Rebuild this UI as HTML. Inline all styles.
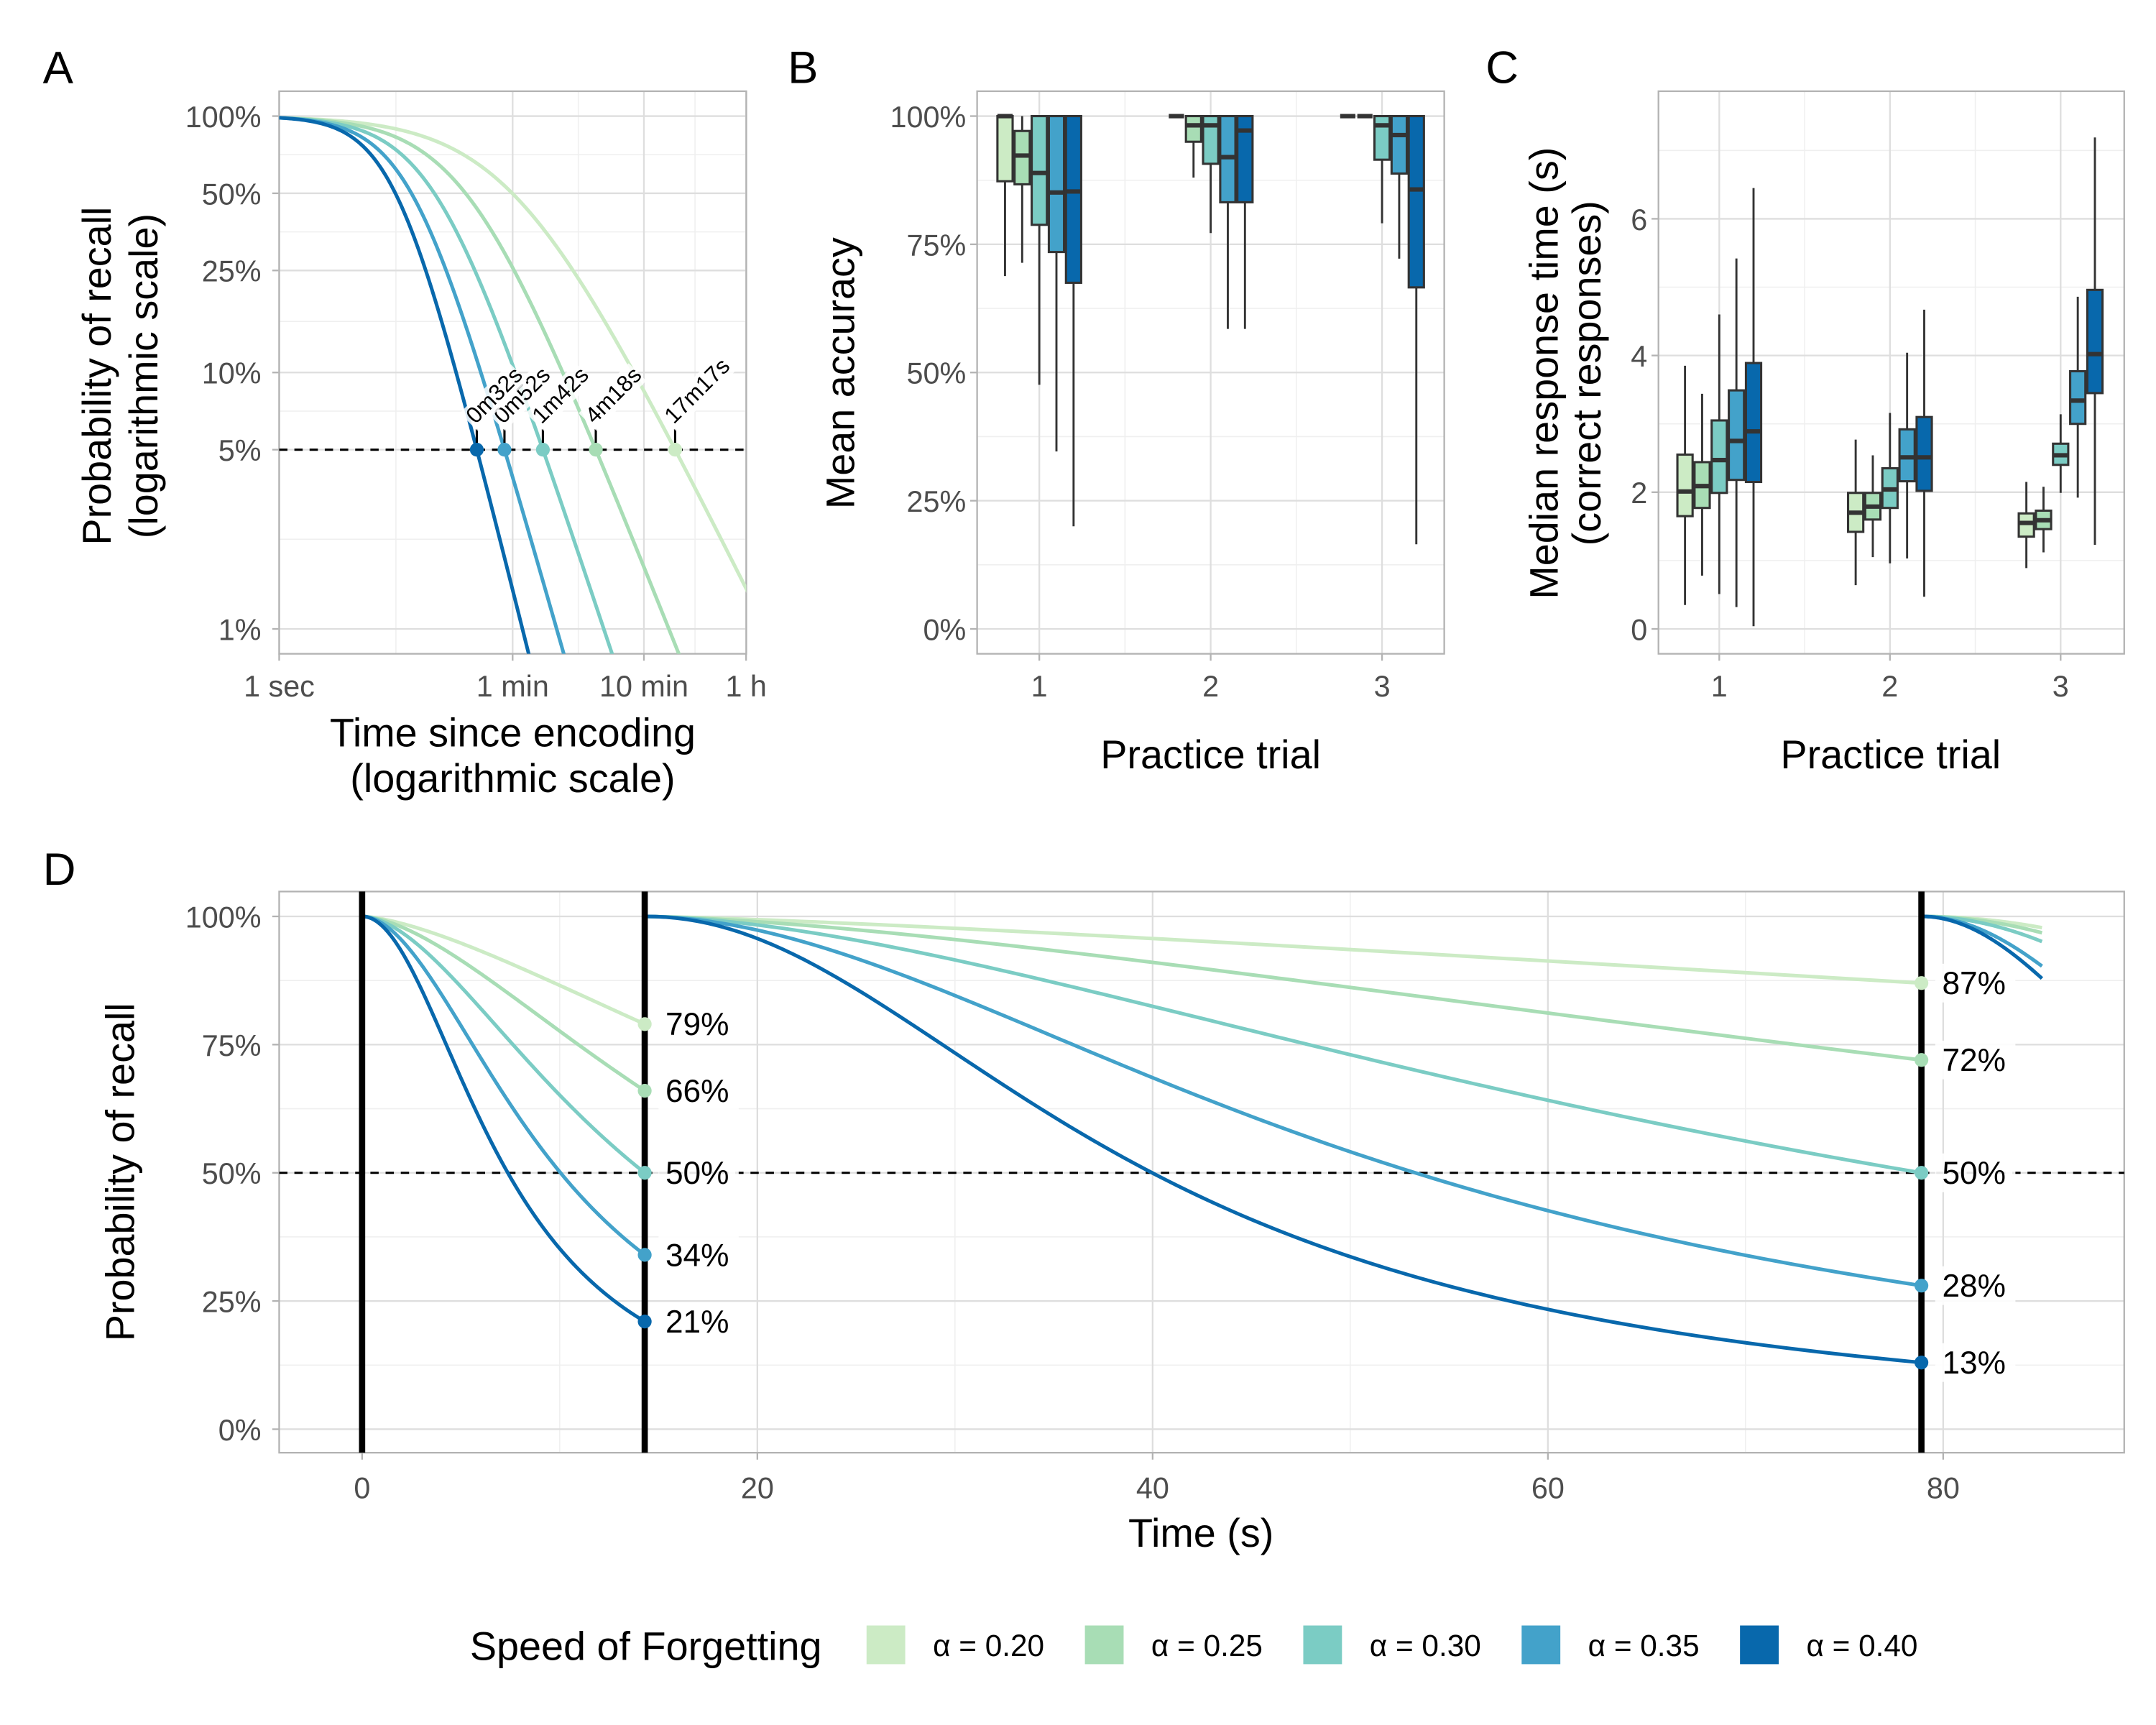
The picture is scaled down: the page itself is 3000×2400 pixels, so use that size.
<!DOCTYPE html>
<html><head><meta charset="utf-8"><style>
html,body{margin:0;padding:0;background:#fff;}
svg{display:block;font-family:"Liberation Sans",Arial,sans-serif;}
.tick{fill:#4d4d4d;font-size:21.5px;}
.title{fill:#000;font-size:29px;}
</style></head><body>
<svg id="fig" width="3000" height="2400" viewBox="0 0 1560 1248" xmlns="http://www.w3.org/2000/svg">
<defs>
<clipPath id="clipA"><rect x="202" y="66" width="338" height="407"/></clipPath>
<clipPath id="clipD"><rect x="202" y="645" width="1335" height="406"/></clipPath>
</defs>
<rect x="0" y="0" width="1560" height="1248" fill="#fff"/>
<g id="pA"></g>
<g id="pB"></g>
<g id="pC"></g>
<g id="pD"></g>
<text x="31" y="60" font-size="33">A</text>
<text x="570" y="60" font-size="33">B</text>
<text x="1075" y="60" font-size="33">C</text>
<text x="31" y="640" font-size="33">D</text>
<g class="title" text-anchor="middle">
<text transform="translate(80,272) rotate(-90)">Probability of recall</text>
<text transform="translate(114,272) rotate(-90)">(logarithmic scale)</text>
<text x="371" y="540">Time since encoding</text>
<text x="371" y="573">(logarithmic scale)</text>
<text transform="translate(618,270) rotate(-90)">Mean accuracy</text>
<text x="876" y="556">Practice trial</text>
<text transform="translate(1127,270) rotate(-90)">Median response time (s)</text>
<text transform="translate(1158,270) rotate(-90)">(correct responses)</text>
<text x="1368" y="556">Practice trial</text>
<text transform="translate(97,848) rotate(-90)">Probability of recall</text>
<text x="869" y="1119">Time (s)</text>
</g>
<g id="legend">
<text x="340" y="1201" font-size="29">Speed of Forgetting</text>
</g>
</svg>
<script>
const NS="http://www.w3.org/2000/svg";
const alphas=[0.20,0.25,0.30,0.35,0.40];
const alphaLabels=["α = 0.20","α = 0.25","α = 0.30","α = 0.35","α = 0.40"];
const colors=["#CCEBC5","#A8DDB5","#7BCCC4","#43A2CA","#0868AC"];
// Panel A
const crossTimes=[1037,258,102,52,32];
const crossLabels=["17m17s","4m18s","1m42s","0m52s","0m32s"];
const aYTicks=[1,0.5,0.25,0.1,0.05,0.01];
const aYLabels=["100%","50%","25%","10%","5%","1%"];
const aXTicks=[1,60,600,3600];
const aXLabels=["1 sec","1 min","10 min","1 h"];
const threshold=0.05;
// Panel B
const trials=["1","2","3"];
const accHi=[[100,100,100,100,100],[100,100,100,100,100],[100,100,100,100,100]];
const accQ3=[[100,97.1,100,100,100],[100,100,100,100,100],[100,100,100,100,100]];
const accMed=[[100,92.3,88.9,85.1,85.3],[100,98.2,98.2,92.0,97.2],[100,100,98.2,96.3,85.7]];
const accQ1=[[87.3,86.7,78.8,73.5,67.5],[100,95.0,90.7,83.2,83.2],[100,100,91.5,88.8,66.6]];
const accLo=[[68.8,71.4,47.6,34.6,20],[100,88,77.2,58.5,58.5],[100,100,79.1,72.2,16.5]];
const bYTicks=[0,25,50,75,100];
const bYLabels=["0%","25%","50%","75%","100%"];
// Panel C
const rtHi=[[3.85,3.44,4.6,5.42,6.45],[2.77,2.54,3.16,4.04,4.67],[2.15,2.08,3.14,4.86,7.19]];
const rtQ3=[[2.55,2.44,3.05,3.49,3.89],[1.99,1.99,2.35,2.92,3.1],[1.69,1.73,2.71,3.77,4.96]];
const rtMed=[[2.01,2.09,2.47,2.75,2.89],[1.70,1.79,2.04,2.51,2.51],[1.55,1.59,2.54,3.34,4.02]];
const rtQ1=[[1.65,1.77,1.99,2.18,2.15],[1.42,1.6,1.77,2.16,2.02],[1.35,1.46,2.4,3.0,3.45]];
const rtLo=[[0.35,0.78,0.51,0.32,0.04],[0.64,1.05,0.96,1.03,0.47],[0.89,1.12,1.99,1.92,1.23]];
const cYTicks=[0,2,4,6];
// Panel D
const segStart=[0,14.3,78.9];
const segEnd=[14.3,78.9,85];
const seg1End=[0.79,0.66,0.50,0.34,0.21];
const seg2End=[0.87,0.72,0.50,0.28,0.13];
const seg3End=[0.978,0.968,0.951,0.903,0.879];
const seg1Labels=["79%","66%","50%","34%","21%"];
const seg2Labels=["87%","72%","50%","28%","13%"];
const dXTicks=[0,20,40,60,80];
const dYTicks=[0,0.25,0.5,0.75,1];
const dYLabels=["0%","25%","50%","75%","100%"];

function mk(tag,attrs,parent){const e=document.createElementNS(NS,tag);for(const k in attrs)e.setAttribute(k,attrs[k]);parent.appendChild(e);return e;}
const pA=document.getElementById('pA'),pB=document.getElementById('pB'),pC=document.getElementById('pC'),pD=document.getElementById('pD');

function frame(g,x,y,w,h,name){
  const r=mk('rect',{x:x,y:y,width:w,height:h,fill:'none',stroke:'#b3b3b3','stroke-width':1.2},g);
  
  
}
function grid(g,x1,y1,x2,y2,major,name){
  const l=mk('line',{x1:x1,y1:y1,x2:x2,y2:y2,stroke:major?'#dedede':'#efefef','stroke-width':major?1.2:0.8},g);
  
  
}
function tickLabel(g,x,y,txt,anchor,name){
  const t=mk('text',{x:x,y:y,'text-anchor':anchor,class:'tick'},g);t.textContent=txt;
  
  
}
function tickMark(g,x1,y1,x2,y2){
  const l=mk('line',{x1:x1,y1:y1,x2:x2,y2:y2,stroke:'#b3b3b3','stroke-width':1.2},g);
  
  
}

// ---------- Panel A ----------
const xA=t=>202+Math.log10(t)*95;
const yA=p=>84+(0-Math.log10(p))*185.5;
(function(){
  const yMinor=[];for(let i=0;i<aYTicks.length-1;i++)yMinor.push(Math.sqrt(aYTicks[i]*aYTicks[i+1]));
  yMinor.forEach(v=>grid(pA,202,yA(v),540,yA(v),false,'a-y-minor-grid'));
  for(let i=0;i<aXTicks.length-1;i++){const v=Math.sqrt(aXTicks[i]*aXTicks[i+1]);grid(pA,xA(v),66,xA(v),473,false,'a-x-minor-grid');}
  aYTicks.forEach((v,i)=>{grid(pA,202,yA(v),540,yA(v),true,'a-y-grid');tickMark(pA,197,yA(v),202,yA(v));tickLabel(pA,189,yA(v)+8,aYLabels[i],'end','a-y-tick-label');});
  aXTicks.forEach((v,i)=>{grid(pA,xA(v),66,xA(v),473,true,'a-x-grid');tickMark(pA,xA(v),473,xA(v),478);tickLabel(pA,xA(v),504,aXLabels[i],'middle','a-x-tick-label');});
  frame(pA,202,66,338,407,'a-plot-frame');
  const cg=mk('g',{'clip-path':'url(#clipA)'},pA);
  
  
  const s=0.194,L=Math.log(1/threshold-1);
  alphas.forEach((a,i)=>{
    const tau=s*L-a*Math.log(crossTimes[i]);
    let d='';
    for(let k=0;k<=300;k++){const t=Math.pow(10,k/300*3.6);const p=1/(1+Math.exp((tau+a*Math.log(t))/s));d+=(k?'L':'M')+xA(t).toFixed(2)+','+yA(Math.max(p,1e-4)).toFixed(2);}
    const path=mk('path',{d:d,fill:'none',stroke:colors[i],'stroke-width':2.6},cg);
    
    
  });
  const dl=mk('line',{x1:202,y1:yA(threshold),x2:540,y2:yA(threshold),stroke:'#000','stroke-width':1.6,'stroke-dasharray':'6,5'},pA);
  
  
  alphas.forEach((a,i)=>{
    const x=xA(crossTimes[i]),y=yA(threshold);
    const tk=mk('line',{x1:x,y1:y,x2:x,y2:y-15,stroke:'#000','stroke-width':1.6},pA);
    
    
    const g=mk('g',{transform:'translate('+(x-1)+','+(y-18)+') rotate(-45)'},pA);
    
    
    const bg=mk('rect',{x:-2,y:-14,width:crossLabels[i].length*9.4+4,height:18,fill:'#fff','fill-opacity':0.85},g);
    
    
    const t=mk('text',{x:0,y:0,'font-size':16.5,fill:'#000'},g);t.textContent=crossLabels[i];
    
    
    const c=mk('circle',{cx:x,cy:y,r:5,fill:colors[i]},pA);
    
    
  });
})();

// ---------- Box plots ----------
function boxPanel(g,x0,w,xc,yf,hi,q3,med,q1,lo,yTicks,yLabels,minorStep,prefix){
  yTicks.forEach((v,i)=>{if(i<yTicks.length-1)grid(g,x0,yf(v+minorStep),x0+w,yf(v+minorStep),false,prefix+'-y-minor-grid');});
  if(prefix==='c'){grid(g,x0,yf(7),x0+w,yf(7),false,'c-y-minor-grid');}
  [0.5,1.5].forEach(v=>{const xm=xc(v);grid(g,xm,66,xm,473,false,prefix+'-x-minor-grid');});
  yTicks.forEach((v,i)=>{grid(g,x0,yf(v),x0+w,yf(v),true,prefix+'-y-grid');tickMark(g,x0-5,yf(v),x0,yf(v));tickLabel(g,x0-8,yf(v)+8,yLabels[i],'end',prefix+'-y-tick-label');});
  trials.forEach((tr,j)=>{grid(g,xc(j),66,xc(j),473,true,prefix+'-x-grid');tickMark(g,xc(j),473,xc(j),478);tickLabel(g,xc(j),504,tr,'middle',prefix+'-x-tick-label');});
  frame(g,x0,66,w,407,prefix+'-plot-frame');
  trials.forEach((tr,j)=>{
    alphas.forEach((a,i)=>{
      const cx=xc(j)+(i-2)*12.4,bw=11;
      const wl=mk('line',{x1:cx,y1:yf(hi[j][i]),x2:cx,y2:yf(lo[j][i]),stroke:'#333','stroke-width':1.5},g);
      
      
      const r=mk('rect',{x:cx-bw/2,y:yf(q3[j][i]),width:bw,height:Math.max(0,yf(q1[j][i])-yf(q3[j][i])),fill:colors[i],stroke:'#333','stroke-width':1.6},g);
      
      
      const m=mk('line',{x1:cx-bw/2,y1:yf(med[j][i]),x2:cx+bw/2,y2:yf(med[j][i]),stroke:'#333','stroke-width':3.2},g);
      
      
    });
  });
}
boxPanel(pB,707,338,j=>752+j*124,v=>455-v*3.71,accHi,accQ3,accMed,accQ1,accLo,bYTicks,bYLabels,12.5,'b');
boxPanel(pC,1200,337,j=>1244+j*123.5,v=>455-v*49.45,rtHi,rtQ3,rtMed,rtQ1,rtLo,cYTicks,cYTicks.map(String),1,'c');

// ---------- Panel D ----------
const xD=t=>262+t*14.3;
const yD=p=>1034-p*371;
(function(){
  dYTicks.forEach((v,i)=>{if(i<dYTicks.length-1)grid(pD,202,yD(v+0.125),1537,yD(v+0.125),false,'d-y-minor-grid');});
  [10,30,50,70].forEach(v=>grid(pD,xD(v),645,xD(v),1051,false,'d-x-minor-grid'));
  dYTicks.forEach((v,i)=>{grid(pD,202,yD(v),1537,yD(v),true,'d-y-grid');tickMark(pD,197,yD(v),202,yD(v));tickLabel(pD,189,yD(v)+8,dYLabels[i],'end','d-y-tick-label');});
  dXTicks.forEach(v=>{grid(pD,xD(v),645,xD(v),1051,true,'d-x-grid');tickMark(pD,xD(v),1051,xD(v),1056);tickLabel(pD,xD(v),1084,String(v),'middle','d-x-tick-label');});
  frame(pD,202,645,1335,406,'d-plot-frame');
  const dl=mk('line',{x1:202,y1:yD(0.5),x2:1537,y2:yD(0.5),stroke:'#000','stroke-width':1.6,'stroke-dasharray':'6,5'},pD);
  
  
  const ends=[seg1End,seg2End,seg3End];
  const kBase=[1.5,1.3,2.0],kSlope=[2.5,3.8,0];
  alphas.forEach((a,i)=>{
    let d='';
    for(let s=0;s<3;s++){
      const T=segEnd[s]-segStart[s],pe=ends[s][i];
      const k=kBase[s]+(a-0.2)*kSlope[s];
      const h=T/Math.pow(1/pe-1,1/k);
      for(let n=0;n<=120;n++){const dt=T*n/120;const p=1/(1+Math.pow(dt/h,k));d+=(d&&n>0?'L':'M')+xD(segStart[s]+dt).toFixed(2)+','+yD(p).toFixed(2);}
    }
    const path=mk('path',{d:d,fill:'none',stroke:colors[i],'stroke-width':2.6},pD);
    
    
  });
  [segStart[0],segStart[1],segStart[2]].forEach(t=>{
    const l=mk('line',{x1:xD(t),y1:645,x2:xD(t),y2:1051,stroke:'#000','stroke-width':4.5},pD);
    
    
  });
  [[seg1End,seg1Labels,segEnd[0]],[seg2End,seg2Labels,segEnd[1]]].forEach(([vals,labs,t])=>{
    vals.forEach((v,i)=>{
      const bg=mk('rect',{x:xD(t)+10,y:yD(v)-14,width:58,height:28,fill:'#fff','fill-opacity':0.9},pD);
      
      
      const tx=mk('text',{x:xD(t)+15,y:yD(v)+8,'font-size':23,fill:'#000'},pD);tx.textContent=labs[i];
      
      
      const c=mk('circle',{cx:xD(t),cy:yD(v),r:5,fill:colors[i]},pD);
      
      
    });
  });
})();

// ---------- Legend ----------
(function(){
  const lg=document.getElementById('legend');
  alphaLabels.forEach((lab,i)=>{
    const x=627+i*158;
    const r=mk('rect',{x:x,y:1176,width:28,height:28,fill:colors[i]},lg);
    
    
    const t=mk('text',{x:x+48,y:1198,'font-size':22,fill:'#000'},lg);t.textContent=lab;
    
    
  });
})();
</script>
</body></html>
